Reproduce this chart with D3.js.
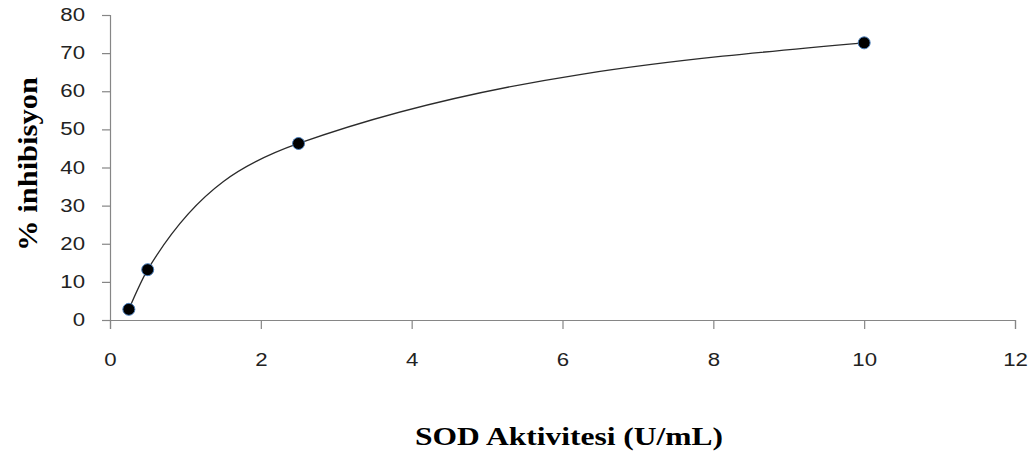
<!DOCTYPE html>
<html>
    <head>
        <meta charset="utf-8">
        <title>SOD Aktivitesi</title>
        <script type="text/javascript" src="https://cdn.jsdelivr.net/npm/d3@7"></script>
        <style>
            body { margin: 0; background: #fff; }
        </style>
    </head>
    <body>
        <script type="text/javascript">
            // okunan degerler
            var sodValues = [0.25, 0.5, 2.5, 10];
            var inhibition = [2.8, 13.2, 46.3, 72.7];
            var xTicks = [0, 2, 4, 6, 8, 10, 12];
            var yTicks = [0, 10, 20, 30, 40, 50, 60, 70, 80];

            var width = 1031, height = 457;
            var axisColor = '#868686';

            var svg = d3.select('body').append('svg')
                .attr('width', width)
                .attr('height', height);

            var x = d3.scaleLinear().domain([0, 12]).range([110, 1015]);
            var y = d3.scaleLinear().domain([0, 80]).range([320, 15]);

            var points = sodValues.map(function(d, i) {
                return { x: d, y: inhibition[i] };
            });

            // eksenler
            var xAxis = svg.append('g')
                .attr('transform', 'translate(0,' + y(0) + ')')
                .call(d3.axisBottom(x).tickValues(xTicks).tickSize(9).tickPadding(25));

            var yAxis = svg.append('g')
                .attr('transform', 'translate(' + x(0) + ',0)')
                .call(d3.axisLeft(y).tickValues(yTicks).tickSize(8).tickPadding(17));

            [xAxis, yAxis].forEach(function(g) {
                g.select('.domain').attr('stroke', axisColor).attr('stroke-width', 1.2);
                g.selectAll('.tick line').attr('stroke', axisColor).attr('stroke-width', 1.2);
                g.selectAll('.tick text')
                    .attr('fill', '#222')
                    .style('font-family', '"Liberation Sans", Arial, sans-serif')
                    .style('font-size', '17.5px')
                    .each(function() {
                        // referansta yazilar yatayda biraz genis
                        var w = this.getComputedTextLength();
                        d3.select(this)
                            .attr('textLength', w * 1.27)
                            .attr('lengthAdjust', 'spacingAndGlyphs');
                    });
            });

            // egri
            var line = d3.line()
                .x(function(d) { return x(d.x); })
                .y(function(d) { return y(d.y); })
                .curve(d3.curveMonotoneX);

            svg.append('path')
                .datum(points)
                .attr('d', line)
                .attr('fill', 'none')
                .attr('stroke', '#2b2b2b')
                .attr('stroke-width', 1.3);

            svg.selectAll('circle.pt')
                .data(points)
                .enter()
                .append('circle')
                .attr('class', 'pt')
                .attr('cx', function(d) { return x(d.x); })
                .attr('cy', function(d) { return y(d.y); })
                .attr('r', 6)
                .attr('fill', '#000')
                .attr('stroke', '#4a7ebb')
                .attr('stroke-width', 1);

            // eksen basliklari
            svg.append('text')
                .attr('x', 569)
                .attr('y', 445)
                .attr('text-anchor', 'middle')
                .attr('textLength', 308)
                .attr('lengthAdjust', 'spacingAndGlyphs')
                .style('font-family', '"Liberation Serif", "Times New Roman", serif')
                .style('font-weight', 'bold')
                .style('font-size', '26px')
                .text('SOD Aktivitesi (U/mL)');

            svg.append('text')
                .attr('transform', 'translate(37,164) rotate(-90)')
                .attr('text-anchor', 'middle')
                .attr('textLength', 174)
                .attr('lengthAdjust', 'spacingAndGlyphs')
                .style('font-family', '"Liberation Serif", "Times New Roman", serif')
                .style('font-weight', 'bold')
                .style('font-size', '28px')
                .text('% inhibisyon');
        </script>
    </body>
</html>
